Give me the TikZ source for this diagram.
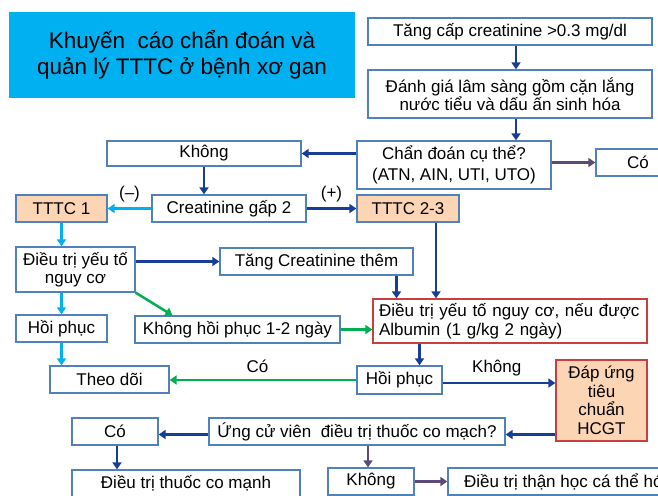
\documentclass[tikz,border=0pt]{standalone}
\usepackage{fontspec}
\setmainfont{Liberation Sans}
\usetikzlibrary{arrows.meta}

\definecolor{boxline}{HTML}{4F81BD}
\definecolor{redline}{HTML}{C8403D}
\definecolor{peach}{HTML}{FCD5B5}
\definecolor{titlecyan}{HTML}{00B0F0}
\definecolor{navy}{HTML}{173D96}
\definecolor{skyarrow}{HTML}{00B0F0}
\definecolor{greenarrow}{HTML}{00B050}
\definecolor{purplearrow}{HTML}{5F497A}

\tikzset{
  box/.style={draw=boxline, line width=1.3pt, fill=white, inner sep=0pt,
    align=center, font=\fontsize{17}{18.5}\selectfont},
  redbox/.style={box, draw=redline},
  peachbox/.style={box, fill=peach},
  conn/.style={line width=2.5pt, -{Triangle[length=7pt,width=9pt]}},
  navyarrow/.style={conn, draw=navy},
  skyarr/.style={conn, draw=skyarrow},
  greenarr/.style={conn, draw=greenarrow},
  purplearr/.style={conn, draw=purplearrow},
  lbl/.style={font=\fontsize{17}{18.5}\selectfont, inner sep=0pt},
}

\begin{document}
\begin{tikzpicture}[x=1pt, y=-1pt]
\useasboundingbox (0,0) rectangle (658,495);
\clip (0,0) rectangle (658,495);

% title panel
\node[fill=titlecyan, minimum width=346pt, minimum height=85pt, align=center,
  font=\fontsize{22.5}{26}\selectfont, inner sep=0pt] (title) at (182,55)
  {Khuyến\ \ cáo chẩn đoán và\\quản lý TTTC ở bệnh xơ gan};

% top chain
\node[box, minimum width=284pt, minimum height=27pt] (tang) at (510,31.5)
  {Tăng cấp creatinine >0.3 mg/dl};
\node[box, minimum width=284pt, minimum height=48pt] (danhgia) at (510,94)
  {Đánh giá lâm sàng gồm cặn lắng\\nước tiểu và dấu ấn sinh hóa};
\node[box, minimum width=194pt, minimum height=48pt,
  font=\fontsize{17}{20.5}\selectfont] (chandoan) at (454,165)
  {Chẩn đoán cụ thể?\\(ATN, AIN, UTI, UTO)};
\node[box, minimum width=84pt, minimum height=27pt] (coR) at (638,162.5) {Có};
\node[box, minimum width=194pt, minimum height=25pt] (khong1) at (204,153.5) {Không};

% staging row
\node[box, minimum width=154pt, minimum height=27pt] (crea2) at (229,208.5) {Creatinine gấp 2};
\node[peachbox, minimum width=91pt, minimum height=27pt] (tttc1) at (61.5,208.5) {TTTC 1};
\node[peachbox, minimum width=102pt, minimum height=27pt] (tttc23) at (408,208.5) {TTTC 2-3};

% stage 1 branch
\node[box, minimum width=119pt, minimum height=45pt] (dieutri1) at (75.5,269.5)
  {Điều trị yếu tố\\nguy cơ};
\node[box, minimum width=193pt, minimum height=27pt] (tangcrea) at (316.5,261.5)
  {Tăng Creatinine thêm};
\node[box, minimum width=91pt, minimum height=27pt] (hoiphucL) at (61.5,328.5) {Hồi phục};
\node[box, minimum width=205pt, minimum height=27pt] (khonghp) at (237.5,329.5)
  {Không hồi phục 1-2 ngày};
\node[box, minimum width=119pt, minimum height=27pt] (theodoi) at (109.5,379.5) {Theo dõi};

% albumin treatment and outcome
\node[redbox, text width=262pt, inner xsep=6pt, minimum height=44pt, align=left] (albumin)
  at (510,321) {Điều trị yếu tố nguy cơ, nếu được\\Albumin (1 g/kg 2 ngày)};
\node[box, minimum width=85pt, minimum height=28pt] (hoiphucR) at (399.5,380) {Hồi phục};
\node[redbox, fill=peach, minimum width=91pt, minimum height=81pt] (dapung) at (601.5,400.5)
  {Đáp ứng\\tiêu\\chuẩn\\HCGT};

% vasoconstrictor decision
\node[box, minimum width=296pt, minimum height=27pt] (ungcu) at (357,431.5)
  {Ứng cử viên\ \ điều trị thuốc co mạch?};
\node[box, minimum width=86pt, minimum height=27pt] (coB) at (115,431.5) {Có};
\node[box, minimum width=228pt, minimum height=27pt] (thuoc) at (186,483.5)
  {Điều trị thuốc co mạnh};
\node[box, minimum width=86pt, minimum height=27pt] (khongB) at (371,481.5) {Không};
\node[box, minimum width=240pt, minimum height=27pt] (thanhoc) at (568,481.5)
  {Điều trị thận học cá thể hóa};

% connectors
\draw[navyarrow] ([xshift=6pt]tang.south) -- ([xshift=6pt]danhgia.north);
\draw[navyarrow] ([xshift=6pt]danhgia.south) -- ([xshift=6pt]danhgia.south |- chandoan.north);
\draw[navyarrow] (chandoan.west |- khong1.east) -- (khong1.east);
\draw[purplearr] (chandoan.east |- coR.west) -- (coR.west);
\draw[navyarrow] (khong1.south) -- (khong1.south |- crea2.north);
\draw[skyarr] (crea2.west) -- node[lbl, above=5pt] {(–)} (tttc1.east);
\draw[navyarrow] (crea2.east) -- node[lbl, above=5pt] {(+)} (tttc23.west);
\draw[skyarr] (tttc1.south) -- (tttc1.south |- dieutri1.north);
\draw[navyarrow] (dieutri1.east |- tangcrea.west) -- (tangcrea.west);
\draw[greenarr] (dieutri1.south east) -- ([xshift=-65pt]khonghp.north);
\draw[skyarr] (hoiphucL.north |- dieutri1.south) -- (hoiphucL.north);
\draw[skyarr] (hoiphucL.south) -- (hoiphucL.south |- theodoi.north);
\draw[greenarr] (khonghp.east) -- (khonghp.east -| albumin.west);
\draw[navyarrow] ([xshift=80pt]tangcrea.south) -- ([xshift=80pt]tangcrea.south |- albumin.north);
\draw[navyarrow] ([xshift=28pt]tttc23.south) -- ([xshift=28pt]tttc23.south |- albumin.north);
\draw[navyarrow] ([xshift=20pt]hoiphucR.north |- albumin.south) -- ([xshift=20pt]hoiphucR.north);
\draw[greenarr] (hoiphucR.west) -- node[lbl, above=6pt, pos=0.53] {Có} (hoiphucR.west -| theodoi.east);
\draw[navyarrow] ([yshift=-3pt]hoiphucR.east) -- node[lbl, above=6pt, pos=0.48] {Không}
  ([yshift=-3pt]hoiphucR.east -| dapung.west);
\draw[navyarrow] ([yshift=-3pt]dapung.west |- ungcu.east) -- ([yshift=-3pt]ungcu.east);
\draw[navyarrow] ([yshift=-3pt]ungcu.west) -- ([yshift=-3pt]coB.east);
\draw[navyarrow] ([xshift=2pt]coB.south) -- ([xshift=2pt]coB.south |- thuoc.north);
\draw[purplearr] ([xshift=-3pt]khongB.north |- ungcu.south) -- ([xshift=-3pt]khongB.north);
\draw[purplearr] (khongB.east) -- (khongB.east -| thanhoc.west);
\end{tikzpicture}
\end{document}
